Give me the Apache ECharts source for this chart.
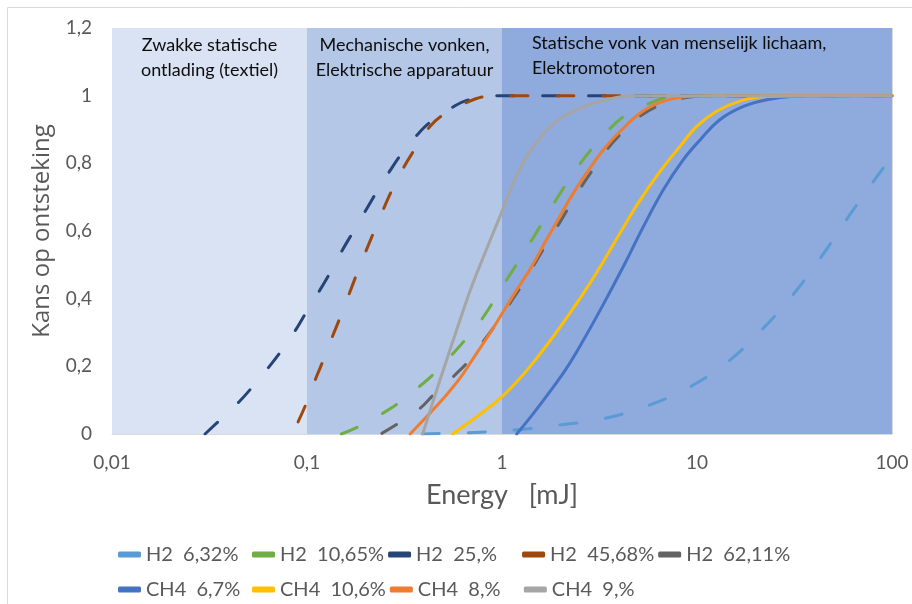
<!DOCTYPE html>
<html>
<head>
<meta charset="utf-8">
<script src="https://cdn.jsdelivr.net/npm/echarts@6/dist/echarts.min.js"></script>
<style>
  html, body { margin: 0; padding: 0; background: #ffffff; }
  #chart { width: 912px; height: 604px; }
</style>
</head>
<body>
<div id="chart"></div>
<script>
// Ignition probability versus spark energy for hydrogen and methane mixtures.
// Each curve is a list of [energy in mJ, probability] pairs.
const seriesNames = ['H2  6,32%', 'H2  10,65%', 'H2  25,%', 'H2  45,68%', 'H2  62,11%',
                     'CH4  6,7%', 'CH4  10,6%', 'CH4  8,%', 'CH4  9,%'];

const h2_632 = [[0.39,0],[0.67,0.004],[1.17,0.012],[1.98,0.027],[3.37,0.046],[5.74,0.086],[9.39,0.142],
  [14.8,0.219],[21.9,0.313],[31.2,0.413],[43.3,0.523],[58.6,0.635],[80.2,0.746],[100,0.82]];
const h2_1065 = [[0.15,0],[0.187,0.024],[0.244,0.061],[0.297,0.093],[0.38,0.142],[0.453,0.181],[0.563,0.239],
  [0.771,0.332],[1.057,0.456],[1.408,0.569],[1.87,0.687],[2.53,0.801],[3.6,0.904],[4.36,0.944],[5.74,0.978],
  [7.27,0.996],[10,1],[100,1]];
const h2_25 = [[0.03,0],[0.0362,0.044],[0.045,0.096],[0.053,0.142],[0.064,0.199],[0.0745,0.249],[0.088,0.31],
  [0.1,0.364],[0.1166,0.426],[0.132,0.479],[0.152,0.544],[0.173,0.599],[0.201,0.663],[0.228,0.716],[0.267,0.779],
  [0.307,0.83],[0.371,0.887],[0.427,0.921],[0.574,0.97],[0.659,0.986],[0.83,0.998],[1,1],[100,1]];
const h2_4568 = [[0.09,0.036],[0.0996,0.093],[0.111,0.165],[0.121,0.217],[0.135,0.288],[0.148,0.345],[0.165,0.416],
  [0.18,0.473],[0.201,0.542],[0.221,0.599],[0.248,0.668],[0.275,0.725],[0.314,0.789],[0.358,0.843],[0.427,0.909],
  [0.51,0.947],[0.659,0.98],[0.83,0.998],[1,1],[100,1]];
const h2_6211 = [[0.242,0.002],[0.297,0.033],[0.38,0.076],[0.444,0.115],[0.563,0.17],[0.67,0.214],[0.8,0.273],
  [0.92,0.32],[1.1,0.387],[1.285,0.446],[1.477,0.505],[1.66,0.554],[1.945,0.618],[2.19,0.668],[2.56,0.732],
  [2.94,0.783],[3.5,0.845],[4.1,0.889],[5.1,0.939],[6.33,0.97],[8.5,0.993],[12,1],[100,1]];
const ch4_67 = [[1.19,0],[1.45,0.061],[1.76,0.125],[2.14,0.194],[2.56,0.268],[3.25,0.375],[4.19,0.495],[5.31,0.613],
  [6.72,0.722],[8.51,0.811],[10.4,0.87],[13.1,0.929],[17.3,0.968],[22.8,0.988],[31.2,0.998],[45,1],[100,1]];
const ch4_106 = [[0.558,0],[0.742,0.051],[0.977,0.105],[1.236,0.165],[1.506,0.224],[1.83,0.288],[2.23,0.357],
  [2.72,0.431],[3.31,0.51],[4.03,0.594],[5.0,0.683],[6.46,0.776],[8.18,0.85],[9.96,0.909],[12.6,0.954],[16.6,0.984],
  [22.8,0.998],[35,1],[100,1]];
const ch4_8 = [[0.338,0],[0.41,0.051],[0.5,0.105],[0.609,0.165],[0.742,0.239],[0.868,0.298],[1.016,0.362],[1.19,0.426],
  [1.42,0.495],[1.69,0.574],[1.98,0.643],[2.32,0.712],[2.94,0.8],[3.31,0.84],[4.03,0.894],[5.27,0.954],[6.97,0.986],
  [9.5,0.998],[15,1],[100,1]];
const ch4_9 = [[0.392,0],[0.445,0.1],[0.52,0.219],[0.609,0.337],[0.699,0.436],[0.818,0.535],[0.92,0.607],[1.016,0.668],
  [1.143,0.742],[1.31,0.811],[1.566,0.875],[1.906,0.924],[2.51,0.963],[3.44,0.988],[4.71,1],[100,1]];

const curves = [h2_632, h2_1065, h2_25, h2_4568, h2_6211, ch4_67, ch4_106, ch4_8, ch4_9];
const dashedCurve = [true, true, true, true, true, false, false, false, false];
const curveColors = ['#5b9bd5', '#70ad47', '#264478', '#9e480e', '#636363',
                     '#4472c4', '#ffc000', '#ed7d31', '#a5a5a5'];

// Ignition source bands along the energy axis
const bandEdges = [[0.01, 0.1], [0.1, 1], [1, 100]];
const bandLabels = [
  ['Zwakke statische', 'ontlading (textiel)'],
  ['Mechanische vonken,', 'Elektrische apparatuur'],
  ['Statische vonk van menselijk lichaam,', 'Elektromotoren']
];
const bandColors = ['#dae3f3', '#b4c7e7', '#8faadc'];

const xTitle = 'Energy   [mJ]';
const yTitle = 'Kans op ontsteking';

const chart = echarts.init(document.getElementById('chart'), null, { renderer: 'canvas' });
const axisGray = '#595959';
const gridGray = '#d9d9d9';
const commaNum = v => String(+v.toFixed(4)).replace('.', ',');

const lineSeries = curves.map((pts, i) => ({
  name: seriesNames[i],
  type: 'line',
  data: pts,
  smooth: 0.4,
  showSymbol: false,
  symbol: 'none',
  z: 3,
  itemStyle: { color: curveColors[i] },
  lineStyle: {
    color: curveColors[i],
    width: 3,
    type: dashedCurve[i] ? [17, 29] : 'solid',
    cap: 'round'
  }
}));

const bandSeries = {
  name: 'bands',
  type: 'line',
  data: [],
  z: -1,
  silent: true,
  markArea: {
    silent: true,
    label: { show: false },
    data: bandEdges.map((b, i) => [
      { xAxis: b[0], yAxis: 0, itemStyle: { color: bandColors[i], opacity: 1 } },
      { xAxis: b[1], yAxis: 1.2 }
    ])
  }
};

chart.setOption({
  animation: false,
  textStyle: { fontFamily: 'Lato' },
  grid: { left: 112, right: 20, top: 28, bottom: 170, containLabel: false },
  xAxis: {
    type: 'log',
    logBase: 10,
    min: 0.01,
    max: 100,
    name: xTitle,
    nameLocation: 'middle',
    nameGap: 48,
    nameTextStyle: { color: axisGray, fontSize: 27, fontFamily: 'Lato' },
    axisLine: { show: true, lineStyle: { color: gridGray, width: 1 } },
    axisTick: { show: false },
    minorTick: { show: false },
    axisLabel: { color: axisGray, fontSize: 19, margin: 19, formatter: v => commaNum(v) },
    splitLine: { show: true, lineStyle: { color: gridGray, width: 1 } }
  },
  yAxis: {
    type: 'value',
    min: 0,
    max: 1.2,
    interval: 0.2,
    name: yTitle,
    nameLocation: 'middle',
    nameGap: 58,
    nameTextStyle: { color: axisGray, fontSize: 24, fontFamily: 'Open Sans' },
    axisLine: { show: false },
    axisTick: { show: false },
    axisLabel: { color: axisGray, fontSize: 19, margin: 20, formatter: v => commaNum(v) },
    splitLine: { show: true, lineStyle: { color: gridGray, width: 1 } }
  },
  legend: {
    data: seriesNames,
    left: 113,
    top: 534,
    width: 690,
    orient: 'horizontal',
    icon: 'roundRect',
    itemWidth: 23,
    itemHeight: 6,
    itemGap: 4,
    selectedMode: false,
    itemStyle: { borderWidth: 0 },
    textStyle: { color: axisGray, fontSize: 20, width: 102, lineHeight: 31, fontFamily: 'Lato' }
  },
  series: [bandSeries].concat(lineSeries)
});

// Band captions placed from the axis scales
function px(e, p) { return chart.convertToPixel({ gridIndex: 0 }, [e, p]); }
const topY = px(0.01, 1.2)[1];
const graphics = [];
bandEdges.forEach((b, i) => {
  const left = px(b[0], 0)[0];
  const right = px(b[1], 0)[0];
  const center = (left + right) / 2;
  if (i === 2) {
    graphics.push({
      type: 'rect', z: 5,
      shape: { x: left + 1, y: topY + 1, width: right - left - 2, height: 49 },
      style: { fill: bandColors[i] }
    });
    graphics.push({
      type: 'text', z: 6, x: center - 165, y: topY + 3,
      style: { text: bandLabels[i].join('\n'), fill: '#0d0d0d', font: '18px Lato', lineHeight: 25,
               textAlign: 'left', textVerticalAlign: 'top' }
    });
  } else {
    graphics.push({
      type: 'text', z: 6, x: center, y: topY + 5,
      style: { text: bandLabels[i].join('\n'), fill: '#0d0d0d', font: '18px Lato', lineHeight: 25,
               textAlign: 'center', textVerticalAlign: 'top' }
    });
  }
});
graphics.push({
  type: 'rect', z: 0, silent: true,
  shape: { x: 7.5, y: 7.5, width: 940, height: 640 },
  style: { fill: 'none', stroke: gridGray, lineWidth: 1 }
});
chart.setOption({ graphic: graphics });
</script>
</body>
</html>
